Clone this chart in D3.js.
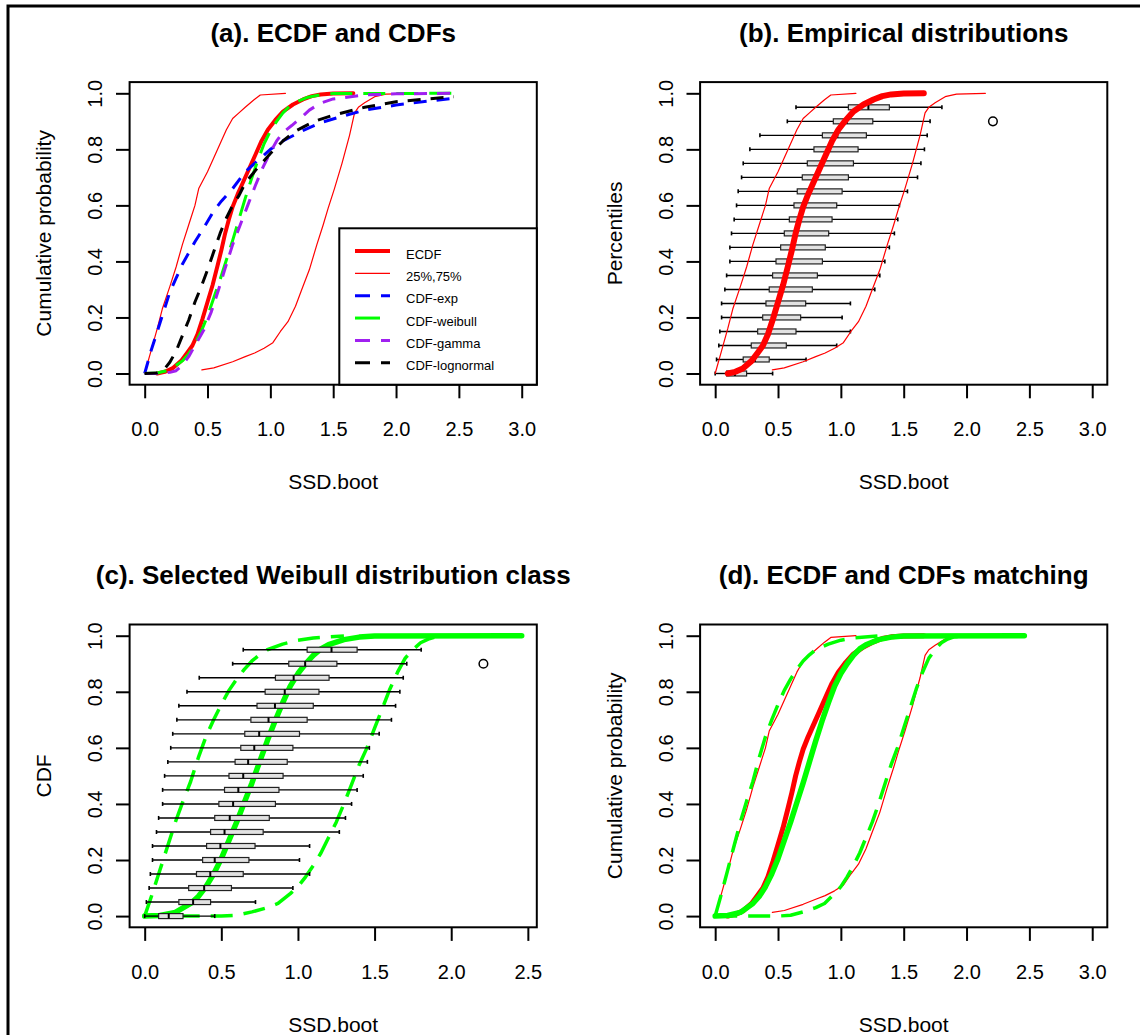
<!DOCTYPE html>
<html><head><meta charset="utf-8">
<script src="https://cdn.jsdelivr.net/npm/d3@7"></script>
<style>body{margin:0;background:#fff} text{font-family:"Liberation Sans",Arial,sans-serif}</style>
</head><body><script>
// ---------- data ----------
const xTicksWide = [0, 0.5, 1, 1.5, 2, 2.5, 3];
const xTicksC = [0, 0.5, 1, 1.5, 2, 2.5];
const yTicks = [0, 0.2, 0.4, 0.6, 0.8, 1.0];
const titles = ["(a). ECDF and CDFs", "(b). Empirical distributions", "(c). Selected Weibull distribution class", "(d). ECDF and CDFs matching"];
const yLabels = ["Cumulative probability", "Percentiles", "CDF", "Cumulative probability"];
const xLabel = "SSD.boot";
const legendLabels = ["ECDF", "25%,75%", "CDF-exp", "CDF-weibull", "CDF-gamma", "CDF-lognormal"];

const ecdf = [[0.1,0.0],[0.16,0.006],[0.22,0.018],[0.29,0.045],[0.34,0.075],[0.38,0.1],[0.42,0.14],[0.46,0.195],[0.5,0.255],[0.54,0.315],[0.58,0.385],[0.61,0.44],[0.64,0.5],[0.67,0.55],[0.7,0.595],[0.74,0.64],[0.78,0.68],[0.83,0.73],[0.88,0.78],[0.93,0.83],[0.98,0.87],[1.04,0.905],[1.1,0.935],[1.18,0.96],[1.26,0.978],[1.33,0.99],[1.4,0.996],[1.5,0.999],[1.66,1.0]];
const q25 = [[0,0],[0.05,0.08],[0.1,0.16],[0.14,0.23],[0.2,0.31],[0.25,0.38],[0.3,0.46],[0.35,0.53],[0.4,0.6],[0.43,0.66],[0.5,0.72],[0.55,0.77],[0.6,0.82],[0.65,0.87],[0.7,0.91],[0.75,0.93],[0.8,0.95],[0.87,0.977],[0.92,0.994],[1.12,1.0]];
const q75 = [[0.455,0.013],[0.55,0.02],[0.7,0.042],[0.8,0.06],[0.875,0.073],[0.95,0.09],[1.02,0.11],[1.08,0.15],[1.14,0.185],[1.2,0.24],[1.25,0.3],[1.31,0.37],[1.37,0.46],[1.42,0.53],[1.46,0.59],[1.51,0.66],[1.57,0.75],[1.63,0.85],[1.67,0.93],[1.7,0.95],[1.75,0.966],[1.83,0.988],[1.92,0.997],[2.15,1.0]];
const cdfExp = [[0,0],[0.05,0.08],[0.1,0.15],[0.15,0.22],[0.2,0.29],[0.25,0.34],[0.3,0.39],[0.35,0.43],[0.4,0.47],[0.47,0.52],[0.55,0.58],[0.61,0.615],[0.7,0.66],[0.8,0.72],[0.9,0.76],[1.0,0.8],[1.1,0.83],[1.25,0.865],[1.4,0.895],[1.55,0.915],[1.75,0.94],[2.0,0.958],[2.25,0.972],[2.46,0.982]];
const cdfWeibull = [[0,0],[0.1,0.002],[0.2,0.013],[0.3,0.045],[0.35,0.07],[0.4,0.105],[0.45,0.15],[0.5,0.205],[0.55,0.27],[0.6,0.335],[0.65,0.405],[0.7,0.475],[0.75,0.55],[0.8,0.625],[0.85,0.695],[0.9,0.76],[0.95,0.82],[1.0,0.865],[1.05,0.9],[1.1,0.93],[1.15,0.953],[1.2,0.968],[1.3,0.986],[1.4,0.995],[1.5,0.999],[2.46,1.0]];
const cdfGamma = [[0,0],[0.1,0.0],[0.2,0.004],[0.25,0.01],[0.3,0.03],[0.35,0.06],[0.4,0.1],[0.47,0.155],[0.53,0.22],[0.585,0.295],[0.64,0.375],[0.7,0.46],[0.76,0.53],[0.82,0.6],[0.88,0.67],[0.94,0.735],[1.0,0.79],[1.05,0.83],[1.1,0.86],[1.17,0.885],[1.25,0.915],[1.31,0.94],[1.4,0.965],[1.5,0.98],[1.75,0.994],[2.0,0.998],[2.46,1.0]];
const cdfLognormal = [[0,0],[0.1,0.002],[0.15,0.012],[0.2,0.04],[0.25,0.08],[0.3,0.135],[0.35,0.19],[0.4,0.255],[0.45,0.31],[0.5,0.37],[0.55,0.435],[0.6,0.5],[0.65,0.555],[0.7,0.6],[0.75,0.635],[0.8,0.68],[0.9,0.735],[1.0,0.785],[1.1,0.83],[1.2,0.865],[1.35,0.9],[1.5,0.922],[1.75,0.95],[2.0,0.97],[2.25,0.98],[2.46,0.988]];
const weibUpperBand = [[0,0],[0.05,0.08],[0.1,0.165],[0.15,0.25],[0.2,0.335],[0.25,0.41],[0.3,0.48],[0.35,0.565],[0.4,0.64],[0.45,0.7],[0.5,0.755],[0.55,0.805],[0.6,0.845],[0.65,0.88],[0.7,0.91],[0.75,0.932],[0.8,0.95],[0.9,0.97],[1.0,0.984],[1.1,0.992],[1.3,0.999]];
const weibLowerBand = [[0,0],[0.5,0.0],[0.6,0.003],[0.7,0.015],[0.8,0.03],[0.87,0.045],[0.95,0.08],[1.0,0.105],[1.05,0.14],[1.1,0.18],[1.15,0.225],[1.2,0.28],[1.25,0.335],[1.3,0.4],[1.35,0.47],[1.4,0.54],[1.45,0.6],[1.5,0.67],[1.55,0.74],[1.6,0.81],[1.65,0.87],[1.7,0.92],[1.75,0.95],[1.8,0.975],[1.85,0.988],[1.9,0.996],[2.0,1.0]];

// boxplots of bootstrap SSD per percentile level
const bpPos = [0,0.05,0.1,0.15,0.2,0.25,0.3,0.35,0.4,0.45,0.5,0.55,0.6,0.65,0.7,0.75,0.8,0.85,0.9,0.95];
const bpLo  = [0.0,0.011,0.029,0.037,0.051,0.051,0.077,0.091,0.117,0.117,0.13,0.151,0.17,0.183,0.21,0.223,0.276,0.356,0.574,0.643];
const bpQ1  = [0.091,0.223,0.287,0.338,0.378,0.404,0.43,0.457,0.484,0.521,0.55,0.59,0.627,0.653,0.693,0.733,0.786,0.853,0.94,1.06];
const bpMed = [0.157,0.316,0.388,0.428,0.457,0.494,0.521,0.555,0.577,0.611,0.643,0.675,0.715,0.747,0.808,0.85,0.914,0.972,1.047,1.219];
const bpQ3  = [0.25,0.43,0.566,0.643,0.68,0.72,0.773,0.813,0.853,0.876,0.903,0.93,0.967,1.01,1.06,1.1,1.137,1.203,1.254,1.386];
const bpHi  = [0.457,0.723,0.967,1.076,1.01,1.076,1.27,1.31,1.35,1.386,1.426,1.453,1.466,1.53,1.61,1.637,1.665,1.687,1.71,1.804];
const bpOutX = [2.21];
const bpOutY = [0.9];

// ---------- drawing ----------
const W = 1140, H = 1035;
const svg = d3.select("body").append("svg").attr("width", W).attr("height", H);
svg.append("rect").attr("width", W).attr("height", H).attr("fill", "#fff");
svg.append("rect").attr("x", 8).attr("y", 6).attr("width", W + 20).attr("height", H + 20)
  .attr("fill", "none").attr("stroke", "#000").attr("stroke-width", 3);

const fmt = d3.format(".1f");

function makePanel(cfg) {
  const { left, right, top, bottom, xDom, xTicks, title, yLabel } = cfg;
  const x = d3.scaleLinear().domain(xDom).range([left, right]);
  const y = d3.scaleLinear().domain([-0.04, 1.04]).range([bottom, top]);
  const g = svg.append("g");
  const plot = g.append("g");
  const frame = g.append("g");
  // title
  frame.append("text").attr("x", (left + right) / 2).attr("y", top - 40.5)
    .attr("text-anchor", "middle").attr("font-weight", "bold").attr("font-size", 26).text(title);
  // x axis
  const xa = frame.append("g").attr("transform", `translate(0,${bottom})`)
    .call(d3.axisBottom(x).tickValues(xTicks).tickSize(13.6).tickFormat(fmt));
  xa.attr("font-family", null).attr("font-size", null);
  xa.select(".domain").remove();
  xa.selectAll(".tick line").attr("stroke", "#000").attr("stroke-width", 2);
  xa.selectAll(".tick text").attr("y", 51.3).attr("dy", 0).attr("font-size", 20).attr("fill", "#000");
  // y axis
  const ya = frame.append("g").attr("transform", `translate(${left},0)`)
    .call(d3.axisLeft(y).tickValues(yTicks).tickSize(13.6).tickFormat(fmt));
  ya.attr("font-family", null).attr("font-size", null);
  ya.select(".domain").remove();
  ya.selectAll(".tick line").attr("stroke", "#000").attr("stroke-width", 2);
  ya.selectAll(".tick text").attr("x", 0).attr("dy", 0).attr("text-anchor", "middle")
    .attr("transform", "translate(-27.2,0) rotate(-90)").attr("font-size", 20).attr("fill", "#000");
  // axis titles
  frame.append("text").attr("x", (left + right) / 2).attr("y", bottom + 104.5)
    .attr("text-anchor", "middle").attr("font-size", 21).text(xLabel);
  frame.append("text").attr("transform", `translate(${left - 78.6},${(top + bottom) / 2}) rotate(-90)`)
    .attr("text-anchor", "middle").attr("font-size", 21).text(yLabel);
  // box
  frame.append("rect").attr("x", left).attr("y", top).attr("width", right - left).attr("height", bottom - top)
    .attr("fill", "none").attr("stroke", "#000").attr("stroke-width", 2);
  return { g, plot, frame, x, y };
}

function drawLine(p, data, color, width, dash) {
  const line = d3.line().x(d => p.x(d[0])).y(d => p.y(d[1]));
  const path = p.plot.append("path").datum(data).attr("d", line)
    .attr("fill", "none").attr("stroke", color).attr("stroke-width", width)
    .attr("stroke-linejoin", "round").attr("stroke-linecap", dash ? "butt" : "round");
  if (dash) path.attr("stroke-dasharray", dash);
  return path;
}

function drawBoxes(p) {
  const gb = p.plot.append("g");
  const bh = 5, ch = 4;
  bpPos.forEach((pos, i) => {
    const yy = p.y(pos);
    gb.append("line").attr("x1", p.x(bpLo[i])).attr("x2", p.x(bpQ1[i])).attr("y1", yy).attr("y2", yy)
      .attr("stroke", "#000").attr("stroke-width", 1.4);
    gb.append("line").attr("x1", p.x(bpQ3[i])).attr("x2", p.x(bpHi[i])).attr("y1", yy).attr("y2", yy)
      .attr("stroke", "#000").attr("stroke-width", 1.4);
    [bpLo[i], bpHi[i]].forEach(v => {
      gb.append("line").attr("x1", p.x(v)).attr("x2", p.x(v)).attr("y1", yy - ch / 2).attr("y2", yy + ch / 2)
        .attr("stroke", "#000").attr("stroke-width", 1.6);
    });
    gb.append("rect").attr("x", p.x(bpQ1[i])).attr("y", yy - bh / 2)
      .attr("width", p.x(bpQ3[i]) - p.x(bpQ1[i])).attr("height", bh)
      .attr("fill", "#e2e2e2").attr("stroke", "#222").attr("stroke-width", 1.2);
    gb.append("line").attr("x1", p.x(bpMed[i])).attr("x2", p.x(bpMed[i])).attr("y1", yy - bh / 2).attr("y2", yy + bh / 2)
      .attr("stroke", "#000").attr("stroke-width", 2);
  });
  bpOutX.forEach((v, i) => {
    gb.append("circle").attr("cx", p.x(v)).attr("cy", p.y(bpOutY[i])).attr("r", 4.3)
      .attr("fill", "none").attr("stroke", "#000").attr("stroke-width", 1.5);
  });
}

const RED = "#FF0000", BLUE = "#0000FF", GREEN = "#00FF00", PURPLE = "#A020F0", BLACK = "#000000";
const DASH = "13,10", LDASH = "22,11";
const wideDom = [-0.12, 3.12];
const cDom = [-0.0984, 2.46 + 0.0984];

// (a)
const pa = makePanel({ left: 129.6, right: 536.8, top: 82.1, bottom: 384.7, xDom: wideDom, xTicks: xTicksWide, title: titles[0], yLabel: yLabels[0] });
drawLine(pa, ecdf, RED, 4);
drawLine(pa, q25, RED, 1.2);
drawLine(pa, q75, RED, 1.2);
drawLine(pa, cdfExp, BLUE, 3, DASH);
drawLine(pa, cdfWeibull, GREEN, 3, LDASH);
drawLine(pa, cdfGamma, PURPLE, 3, DASH);
drawLine(pa, cdfLognormal, BLACK, 3, DASH);
// legend
const lg = pa.frame.append("g");
lg.append("rect").attr("x", 339.3).attr("y", 228.3).attr("width", 536.8 - 339.3).attr("height", 384.7 - 228.3)
  .attr("fill", "#fff").attr("stroke", "#000").attr("stroke-width", 2);
const legendStyles = [[RED, 4, null], [RED, 1.2, null], [BLUE, 3, DASH], [GREEN, 3, LDASH], [PURPLE, 3, DASH], [BLACK, 3, DASH]];
legendLabels.forEach((lab, i) => {
  const ly = 251 + i * 22.35;
  const [c, w, d] = legendStyles[i];
  const ln = lg.append("line").attr("x1", 355).attr("x2", 390).attr("y1", ly).attr("y2", ly)
    .attr("stroke", c).attr("stroke-width", w);
  if (d) ln.attr("stroke-dasharray", i === 3 ? "25,20" : "15,11");
  lg.append("text").attr("x", 406).attr("y", ly + 7.5).attr("font-size", 13).text(lab);
});

// (b)
const pb = makePanel({ left: 700.1, right: 1107.3, top: 82.1, bottom: 384.7, xDom: wideDom, xTicks: xTicksWide, title: titles[1], yLabel: yLabels[1] });
drawBoxes(pb);
drawLine(pb, q25, RED, 1.2);
drawLine(pb, q75, RED, 1.2);
drawLine(pb, ecdf, RED, 6);

// (c)
const pc = makePanel({ left: 129.6, right: 536.8, top: 624.5, bottom: 927.3, xDom: cDom, xTicks: xTicksC, title: titles[2], yLabel: yLabels[2] });
drawLine(pc, cdfWeibull, GREEN, 5.5);
drawLine(pc, weibUpperBand, GREEN, 3.5, LDASH);
drawLine(pc, weibLowerBand, GREEN, 3.5, LDASH);
drawBoxes(pc);

// (d)
const pd = makePanel({ left: 700.1, right: 1107.3, top: 624.5, bottom: 927.3, xDom: wideDom, xTicks: xTicksWide, title: titles[3], yLabel: yLabels[3] });
drawLine(pd, q25, RED, 1.2);
drawLine(pd, q75, RED, 1.2);
drawLine(pd, ecdf, RED, 5);
drawLine(pd, cdfWeibull, GREEN, 5.5);
drawLine(pd, weibUpperBand, GREEN, 3.5, LDASH);
drawLine(pd, weibLowerBand, GREEN, 3.5, LDASH);
</script></body></html>
